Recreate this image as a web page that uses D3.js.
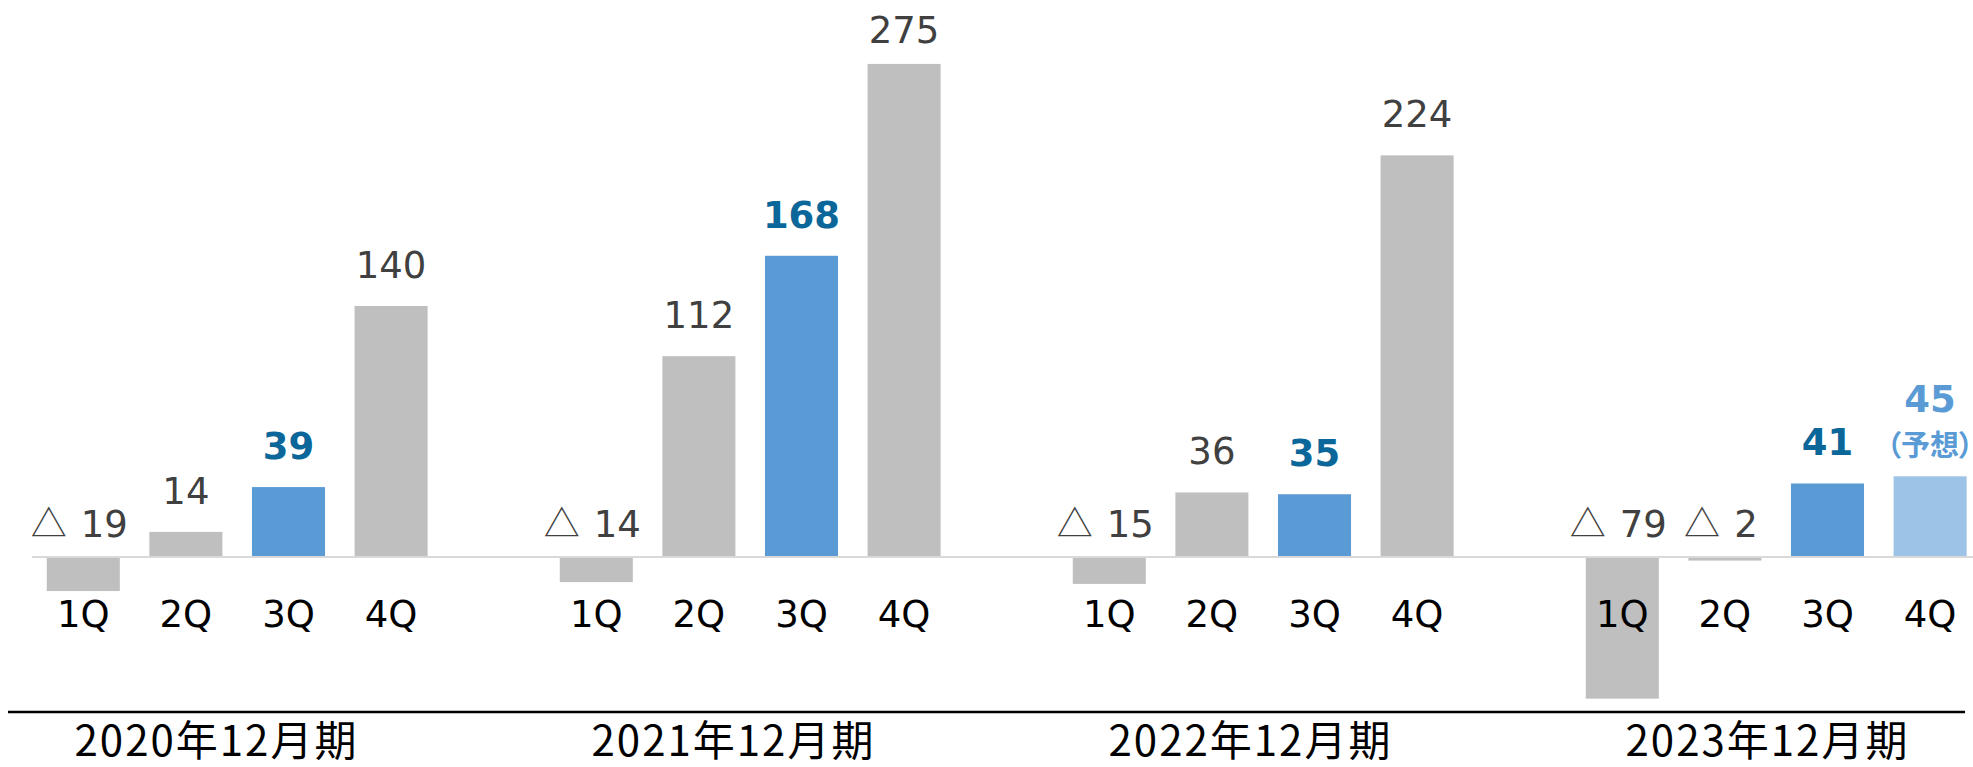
<!DOCTYPE html>
<html>
<head>
<meta charset="utf-8">
<script src="https://cdn.jsdelivr.net/npm/d3@7"></script>
<style>
  body { margin: 0; background: #fff; }
  svg { display: block; }
</style>
</head>
<body>
<div id="container"></div>
<script>
/* CONSTANTS AND GLOBALS */
const width = 1973,
  height = 767,
  zeroY = 557,
  labelGap = 28;

/* DATA */
const years = ["2020", "2021", "2022", "2023"];
const yearLabels = ["2020年12月期", "2021年12月期", "2022年12月期", "2023年12月期"];
const quarters = ["1Q", "2Q", "3Q", "4Q"];
const values2020 = [-19, 14, 39, 140];
const values2021 = [-14, 112, 168, 275];
const values2022 = [-15, 36, 35, 224];
const values2023 = [-79, -2, 41, 45];
const forecastKey = "2023-4Q";

const valuesByYear = [values2020, values2021, values2022, values2023];

const data = [];
years.forEach((yr, i) => {
  quarters.forEach((q, j) => {
    data.push({year: yr, quarter: q, key: `${yr}-${q}`, value: valuesByYear[i][j]});
  });
});

// slots: 4 quarters per year + one empty slot between years
const slots = [];
years.forEach((yr, i) => {
  quarters.forEach(q => slots.push(`${yr}-${q}`));
  if (i < years.length - 1) slots.push(`${yr}-gap`);
});

/* SCALES */
const xScale = d3.scaleBand()
  .domain(slots)
  .range([32, 1981.4])
  .paddingInner(0.288)
  .paddingOuter(0.144);

const yScale = d3.scaleLinear()
  .domain([-80, 280])
  .range([zeroY + 80 * 1.793, zeroY - 280 * 1.793]);

const yearScale = d3.scaleBand()
  .domain(years)
  .range([-42, 2026]);

/* HTML ELEMENTS */
const svg = d3.select("#container")
  .append("svg")
  .attr("width", width)
  .attr("height", height);

const numFont = "'DejaVu Sans', Verdana, sans-serif";
const jpFont = "'Noto Sans CJK JP', 'Noto Sans', sans-serif";

function barColor(d) {
  if (d.key === forecastKey) return "#9DC3E6";
  if (d.quarter === "3Q") return "#5B9BD5";
  return "#BFBFBF";
}

const cx = d => xScale(d.key) + xScale.bandwidth() / 2;

// bars
svg.selectAll("rect.bar")
  .data(data)
  .join("rect")
  .attr("class", "bar")
  .attr("x", d => xScale(d.key))
  .attr("width", xScale.bandwidth())
  .attr("y", d => yScale(Math.max(0, d.value)))
  .attr("height", d => Math.abs(yScale(d.value) - yScale(0)))
  .attr("fill", barColor);

// zero line
svg.append("line")
  .attr("x1", 32).attr("x2", width)
  .attr("y1", yScale(0)).attr("y2", yScale(0))
  .attr("stroke", "#D9D9D9")
  .attr("stroke-width", 2);

// quarter labels
svg.selectAll("text.q")
  .data(data)
  .join("text")
  .attr("class", "q")
  .attr("x", cx)
  .attr("y", 627)
  .attr("text-anchor", "middle")
  .attr("font-family", numFont)
  .attr("font-size", 37)
  .attr("fill", "#000")
  .text(d => d.quarter);

// value labels (positive)
svg.selectAll("text.val")
  .data(data.filter(d => d.key !== forecastKey && d.value >= 0))
  .join("text")
  .attr("class", "val")
  .attr("x", cx)
  .attr("y", d => Math.max(yScale(d.value) - labelGap, 43))
  .attr("text-anchor", "middle")
  .attr("font-family", numFont)
  .attr("font-size", 37)
  .attr("font-weight", d => d.quarter === "3Q" ? "bold" : "normal")
  .attr("fill", d => d.quarter === "3Q" ? "#0B6699" : "#404040")
  .text(d => d.value);

// value labels (negative, shown with a triangle above the zero line)
const negLabels = svg.selectAll("text.neg")
  .data(data.filter(d => d.value < 0))
  .join("text")
  .attr("class", "neg")
  .attr("x", d => cx(d) - 4)
  .attr("y", yScale(0) - 20)
  .attr("text-anchor", "middle")
  .attr("font-size", 37)
  .attr("fill", "#404040");

negLabels.append("tspan")
  .attr("font-family", jpFont)
  .attr("font-size", 36)
  .text("△");
negLabels.append("tspan")
  .attr("font-family", numFont)
  .attr("dx", 14)
  .text(d => Math.abs(d.value));

// forecast label
const fc = data.find(d => d.key === forecastKey);
svg.append("text")
  .attr("x", cx(fc))
  .attr("y", yScale(fc.value) - 64)
  .attr("text-anchor", "middle")
  .attr("font-family", numFont)
  .attr("font-size", 37)
  .attr("font-weight", "bold")
  .attr("fill", "#5B9BD5")
  .text(fc.value);

svg.append("text")
  .attr("x", cx(fc))
  .attr("y", yScale(fc.value) - 20)
  .attr("text-anchor", "middle")
  .attr("font-family", jpFont)
  .attr("font-size", 29)
  .attr("font-weight", "bold")
  .style("font-feature-settings", "'palt'")
  .attr("fill", "#5B9BD5")
  .text("（予想）");

// bottom axis line
svg.append("line")
  .attr("x1", 8).attr("x2", 1965)
  .attr("y1", 712).attr("y2", 712)
  .attr("stroke", "#000")
  .attr("stroke-width", 2.5);

// year labels
svg.selectAll("text.year")
  .data(years)
  .join("text")
  .attr("class", "year")
  .attr("x", d => yearScale(d) + yearScale.bandwidth() / 2)
  .attr("y", 756)
  .attr("text-anchor", "middle")
  .attr("font-family", jpFont)
  .attr("font-size", 42)
  .attr("letter-spacing", 2)
  .attr("fill", "#000")
  .text((d, i) => yearLabels[i]);
</script>
</body>
</html>
